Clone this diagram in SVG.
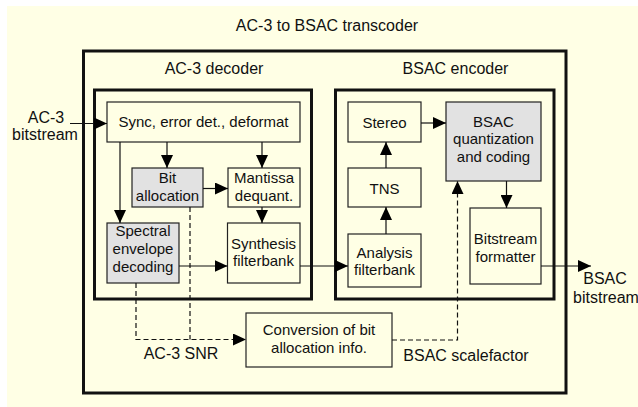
<svg xmlns="http://www.w3.org/2000/svg" width="638" height="407" viewBox="0 0 638 407">
  <defs>
    <marker id="arrow" markerUnits="userSpaceOnUse" markerWidth="13" markerHeight="12" refX="13" refY="6" orient="auto">
      <path d="M0,0 L13,6 L0,12 z" fill="#000"/>
    </marker>
    <style>
      text { font-family: "Liberation Sans", Arial, sans-serif; fill: #111; text-anchor: middle; }
      .lbl { font-size: 16px; }
      .box text { font-size: 15px; }
      .frame { fill: none; stroke: #111; stroke-width: 3; }
      .box rect { fill: #FFFFE5; stroke: #222; stroke-width: 1.2; }
      .box.shaded rect { fill: #E2E2E2; }
      .wire { fill: none; stroke: #111; stroke-width: 1.2; }
      .dash { stroke-dasharray: 5 3; }
    </style>
  </defs>

  <!-- page background -->
  <rect x="7" y="6" width="631" height="401" fill="#FFFFE5"/>

  <!-- enclosing frames -->
  <g id="transcoder">
    <rect class="frame" x="83.5" y="51" width="482.5" height="342"/>
    <text class="lbl" x="327" y="30.5">AC-3 to BSAC transcoder</text>
  </g>
  <g id="decoder">
    <rect class="frame" x="94.5" y="90" width="217" height="209"/>
    <text class="lbl" x="214" y="74">AC-3 decoder</text>
  </g>
  <g id="encoder">
    <rect class="frame" x="335.5" y="90" width="218.5" height="209"/>
    <text class="lbl" x="455.5" y="74">BSAC encoder</text>
  </g>

  <!-- decoder blocks -->
  <g id="sync" class="box">
    <rect x="107" y="102" width="193" height="40"/>
    <text x="203.5" y="127">Sync, error det., deformat</text>
  </g>
  <g id="bitalloc" class="box shaded">
    <rect x="132" y="168" width="71" height="39"/>
    <text x="167.5" y="182.5">Bit</text>
    <text x="167.5" y="201">allocation</text>
  </g>
  <g id="mantissa" class="box">
    <rect x="228" y="168" width="72" height="39"/>
    <text x="264" y="182.5">Mantissa</text>
    <text x="264" y="200.5">dequant.</text>
  </g>
  <g id="spectral" class="box shaded">
    <rect x="107" y="223" width="72" height="60"/>
    <text x="143" y="236">Spectral</text>
    <text x="143" y="253.5">envelope</text>
    <text x="143" y="271.5">decoding</text>
  </g>
  <g id="synthesis" class="box">
    <rect x="227.5" y="223" width="72.5" height="60"/>
    <text x="263.5" y="248.5">Synthesis</text>
    <text x="263.5" y="266">filterbank</text>
  </g>

  <!-- encoder blocks -->
  <g id="stereo" class="box">
    <rect x="348" y="102" width="73" height="40"/>
    <text x="384.5" y="127.5">Stereo</text>
  </g>
  <g id="tns" class="box">
    <rect x="348" y="168" width="73" height="39"/>
    <text x="384.5" y="194">TNS</text>
  </g>
  <g id="analysis" class="box">
    <rect x="348" y="234" width="73" height="53"/>
    <text x="384.5" y="257.5">Analysis</text>
    <text x="384.5" y="275">filterbank</text>
  </g>
  <g id="bsacq" class="box shaded">
    <rect x="446" y="102" width="95" height="79"/>
    <text x="493.5" y="127">BSAC</text>
    <text x="493.5" y="144">quantization</text>
    <text x="493.5" y="161.5">and coding</text>
  </g>
  <g id="formatter" class="box">
    <rect x="470" y="208" width="71" height="76"/>
    <text x="505.5" y="244">Bitstream</text>
    <text x="505.5" y="261.5">formatter</text>
  </g>

  <!-- side-information converter -->
  <g id="conversion" class="box">
    <rect x="246" y="313" width="146" height="54"/>
    <text x="319" y="334.5">Conversion of bit</text>
    <text x="319" y="352.5">allocation info.</text>
  </g>

  <!-- free labels -->
  <g id="labels">
    <text class="lbl" x="46" y="123">AC-3</text>
    <text class="lbl" x="45" y="139.5">bitstream</text>
    <text class="lbl" x="181" y="358.5">AC-3 SNR</text>
    <text class="lbl" x="466" y="361">BSAC scalefactor</text>
    <text class="lbl" x="605" y="284">BSAC</text>
    <text class="lbl" x="606" y="303">bitstream</text>
  </g>

  <!-- connectors -->
  <g id="connectors">
    <path class="wire" d="M70,123.5 H107" marker-end="url(#arrow)"/>
    <path class="wire" d="M167,142 V168" marker-end="url(#arrow)"/>
    <path class="wire" d="M262,142 V168" marker-end="url(#arrow)"/>
    <path class="wire" d="M203,188.5 H228" marker-end="url(#arrow)"/>
    <path class="wire" d="M120,142 V223" marker-end="url(#arrow)"/>
    <path class="wire" d="M262,207 V223" marker-end="url(#arrow)"/>
    <path class="wire" d="M179,266 H227.5" marker-end="url(#arrow)"/>
    <path class="wire" d="M300,266 H348" marker-end="url(#arrow)"/>
    <path class="wire" d="M386,234 V207" marker-end="url(#arrow)"/>
    <path class="wire" d="M386,168 V142" marker-end="url(#arrow)"/>
    <path class="wire" d="M421,123 H446" marker-end="url(#arrow)"/>
    <path class="wire" d="M506.5,181 V208" marker-end="url(#arrow)"/>
    <path class="wire" d="M541,266 H591" marker-end="url(#arrow)"/>
    <path class="wire dash" d="M136,283 V339.5 H246" marker-end="url(#arrow)"/>
    <path class="wire dash" d="M190,207 V339.5"/>
    <path class="wire dash" d="M392,340 H457.5 V181" marker-end="url(#arrow)"/>
  </g>
</svg>
